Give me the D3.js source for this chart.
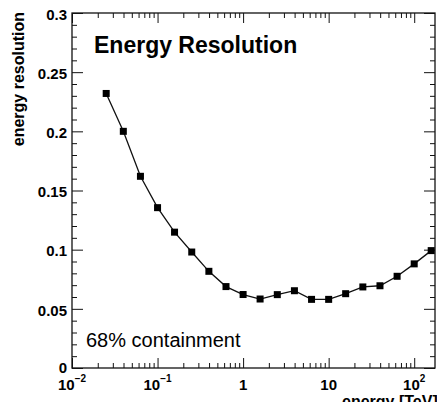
<!DOCTYPE html>
<html>
<head>
<meta charset="utf-8">
<script src="https://cdn.jsdelivr.net/npm/d3@7"></script>
<style>
  body { margin: 0; background: #fff; }
  svg { display: block; font-family: "Liberation Sans", Arial, Helvetica, sans-serif; }
  .axis path { display: none; }
  .axis line { stroke: #111; }
</style>
</head>
<body>
<div id="chart"></div>
<script>
// energy in TeV, 5 points per decade
const energy = [0.0251, 0.0398, 0.0631, 0.1, 0.158, 0.251, 0.398, 0.631, 1, 1.58,
  2.51, 3.98, 6.31, 10, 15.8, 25.1, 39.8, 63.1, 100, 158];
const resolution = [0.232, 0.200, 0.162, 0.1355, 0.1148, 0.098, 0.0817, 0.0688, 0.0621, 0.0583,
  0.0620, 0.0653, 0.0580, 0.0580, 0.0628, 0.0685, 0.0695, 0.0775, 0.0880, 0.0992];

const xMajor = [0.01, 0.1, 1, 10, 100];
const xLabels = [["10", "\u22122"], ["10", "\u22121"], ["1", ""], ["10", ""], ["10", "2"]];
const yMajor = [0, 0.05, 0.1, 0.15, 0.2, 0.25, 0.3];
const yLabels = ["0", "0.05", "0.1", "0.15", "0.2", "0.25", "0.3"];

const W = 437, H = 402;
const margin = { top: 13, right: 2, bottom: 34, left: 72 };
const width = W - margin.left - margin.right;
const height = H - margin.top - margin.bottom;

const x = d3.scaleLog().domain([0.01, 175]).range([0, width]);
const y = d3.scaleLinear().domain([0, 0.3]).range([height, 0]);

// minor ticks
const xMinor = [];
for (let e = -2; e <= 2; e++) {
  for (let k = 2; k <= 9; k++) {
    const v = k * Math.pow(10, e);
    if (v <= x.domain()[1]) xMinor.push(v);
  }
}
const yMinor = d3.range(0, 0.3001, 0.01).filter(v => Math.abs(v * 20 - Math.round(v * 20)) > 1e-6);

const svg = d3.select('#chart').append('svg')
  .attr('width', W)
  .attr('height', H);
const g = svg.append('g')
  .attr('transform', 'translate(' + margin.left + ',' + margin.top + ')');

// frame
g.append('rect')
  .attr('x', 0).attr('y', 0)
  .attr('width', width).attr('height', height)
  .attr('fill', 'none')
  .attr('stroke', '#111')
  .attr('stroke-width', 1.3);

// bottom axis
g.append('g').attr('class', 'axis')
  .attr('transform', 'translate(0,' + height + ')')
  .call(d3.axisTop(x).tickValues(xMajor).tickSize(10).tickFormat(''));
g.append('g').attr('class', 'axis')
  .attr('transform', 'translate(0,' + height + ')')
  .call(d3.axisTop(x).tickValues(xMinor).tickSize(5).tickFormat(''));
// top axis
g.append('g').attr('class', 'axis')
  .call(d3.axisBottom(x).tickValues(xMajor).tickSize(10).tickFormat(''));
g.append('g').attr('class', 'axis')
  .call(d3.axisBottom(x).tickValues(xMinor).tickSize(5).tickFormat(''));
// left axis
g.append('g').attr('class', 'axis')
  .call(d3.axisRight(y).tickValues(yMajor).tickSize(11).tickFormat(''));
g.append('g').attr('class', 'axis')
  .call(d3.axisRight(y).tickValues(yMinor).tickSize(5).tickFormat(''));
// right axis
g.append('g').attr('class', 'axis')
  .attr('transform', 'translate(' + width + ',0)')
  .call(d3.axisLeft(y).tickValues(yMajor).tickSize(11).tickFormat(''));
g.append('g').attr('class', 'axis')
  .attr('transform', 'translate(' + width + ',0)')
  .call(d3.axisLeft(y).tickValues(yMinor).tickSize(5).tickFormat(''));

// y tick labels
g.selectAll('.ylab').data(yMajor).enter()
  .append('text')
  .attr('class', 'ylab')
  .attr('x', -5)
  .attr('y', d => y(d))
  .attr('dy', (d, i) => i === 0 ? '0.3em' : '0.45em')
  .attr('text-anchor', 'end')
  .attr('font-size', 15)
  .attr('font-weight', 'bold')
  .text((d, i) => yLabels[i]);

// x tick labels with exponents
const xl = g.selectAll('.xlab').data(xMajor).enter()
  .append('text')
  .attr('class', 'xlab')
  .attr('x', d => x(d))
  .attr('y', height + 22)
  .attr('text-anchor', 'middle')
  .attr('font-size', 15)
  .attr('font-weight', 'bold');
xl.append('tspan').text((d, i) => xLabels[i][0]);
xl.append('tspan')
  .attr('dy', -8)
  .attr('font-size', 10)
  .text((d, i) => xLabels[i][1]);

// line and markers
const line = d3.line()
  .x((d, i) => x(energy[i]))
  .y(d => y(d));
g.append('path')
  .datum(resolution)
  .attr('d', line)
  .attr('fill', 'none')
  .attr('stroke', '#111')
  .attr('stroke-width', 1.3);
g.selectAll('.pt').data(resolution).enter()
  .append('rect')
  .attr('class', 'pt')
  .attr('x', (d, i) => x(energy[i]) - 3.5)
  .attr('y', d => y(d) - 3.5)
  .attr('width', 7)
  .attr('height', 7)
  .attr('fill', '#000');

// texts
g.append('text')
  .attr('x', 22).attr('y', 40)
  .attr('font-size', 23)
  .attr('font-weight', 'bold')
  .text('Energy Resolution');
g.append('text')
  .attr('x', 14).attr('y', 334)
  .attr('font-size', 20)
  .text('68% containment');

svg.append('text')
  .attr('transform', 'translate(24,12) rotate(-90)')
  .attr('text-anchor', 'end')
  .attr('font-size', 16)
  .attr('font-weight', 'bold')
  .text('energy resolution');
// axis title sits partly below the visible area, as in the reference
svg.append('text')
  .attr('x', 342).attr('y', 407)
  .attr('font-size', 16)
  .attr('font-weight', 'bold')
  .text('energy [TeV]');
</script>
</body>
</html>
